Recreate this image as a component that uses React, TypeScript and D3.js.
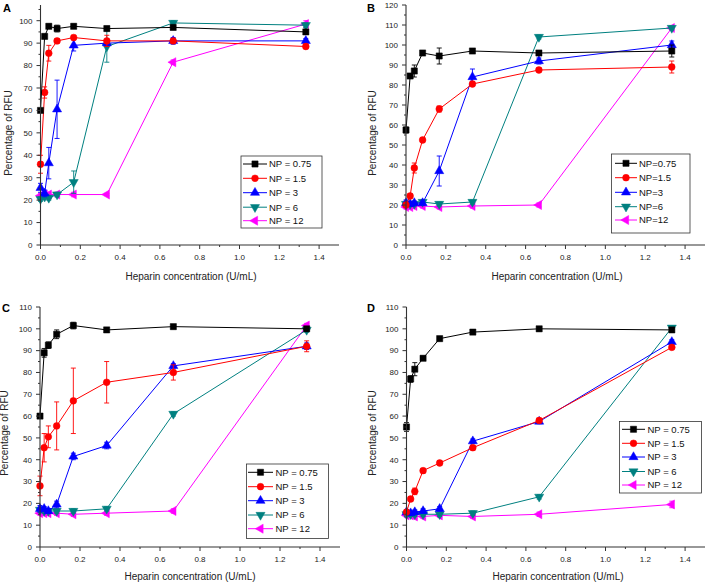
import React from "react";
import * as d3 from "d3";

// ---------- DATA ----------
const X_CONC = [0, 0.0208, 0.0417, 0.0833, 0.1667, 0.3333, 0.6667, 1.3333];
const SERIES_NAMES = ["NP0.75", "NP1.5", "NP3", "NP6", "NP12"];
const LEGEND_SPACED = ["NP = 0.75", "NP = 1.5", "NP = 3", "NP = 6", "NP = 12"];
const LEGEND_COMPACT = ["NP=0.75", "NP=1.5", "NP=3", "NP=6", "NP=12"];
const X_TICKS = [0, 0.2, 0.4, 0.6, 0.8, 1.0, 1.2, 1.4];
const Y_TICKS_A = [0, 10, 20, 30, 40, 50, 60, 70, 80, 90, 100];
const Y_TICKS_B = [0, 10, 20, 30, 40, 50, 60, 70, 80, 90, 100, 110, 120];
const Y_TICKS_CD = [0, 10, 20, 30, 40, 50, 60, 70, 80, 90, 100, 110];

// Panel A
const A_NP075 = [60, 93, 97.5, 96.5, 97.5, 96.5, 97, 95];
const A_NP15 = [36, 68, 85.5, 91, 92.5, 91, 91, 88.5];
const A_NP3 = [25.5, 23, 36.5, 60.5, 89, 90, 91, 91];
const A_NP6 = [20.5, 21.5, 21, 22.5, 28, 88.5, 99, 98];
const A_NP12 = [22, 22.5, 22.5, 22.5, 22.5, 22.5, 81.5, 98.5];
const A_NP075_ERR = [0, 1, 1, 1.5, 1, 1, 1, 1];
const A_NP15_ERR = [4, 2.5, 3.5, 1, 1, 2.5, 1, 1];
const A_NP3_ERR = [2, 1.5, 7, 13, 2.5, 1, 1.5, 1];
const A_NP6_ERR = [1, 1, 1, 1, 5, 7, 1, 1];
const A_NP12_ERR = [1, 1, 1, 1, 1, 0.5, 1, 1.5];

// Panel B
const B_NP075 = [57.5, 84.5, 87, 96, 94.5, 97, 96, 97];
const B_NP15 = [20, 24.5, 38.5, 52.5, 68, 80.5, 87.5, 89];
const B_NP3 = [21, 20.5, 21, 21, 37, 84, 92, 100];
const B_NP6 = [20.5, 20.5, 20.5, 21.5, 20.5, 21.5, 104, 108.5];
const B_NP12 = [19, 19, 19.5, 19.5, 19, 19.5, 20, 108.5];
const B_NP075_ERR = [1.5, 1, 3, 1, 4, 1, 1, 3];
const B_NP15_ERR = [0, 1, 2.5, 1, 1.5, 1, 1, 3];
const B_NP3_ERR = [1.5, 1, 1, 1, 7.5, 4, 1.5, 2];
const B_NP6_ERR = [1, 1, 1, 1, 1, 1, 1, 1];
const B_NP12_ERR = [1, 1, 1, 1, 1, 1, 1, 1];

// Panel C
const C_NP075 = [60, 89, 92.5, 97.5, 101.5, 99.5, 101, 100];
const C_NP15 = [28, 45.5, 50.5, 55.5, 67, 75.5, 80, 92];
const C_NP3 = [17.5, 17.5, 16.5, 19.5, 41.5, 46.5, 83, 92];
const C_NP6 = [17, 16.5, 16.5, 16.5, 16.5, 17.5, 61, 99.5];
const C_NP12 = [15.5, 15.5, 15.5, 15.5, 15, 15.5, 16.5, 101.5];
const C_NP075_ERR = [1, 2, 1.5, 2, 1.5, 1, 1, 1];
const C_NP15_ERR = [4.5, 6.5, 5, 11, 15, 9.5, 3.5, 2.5];
const C_NP3_ERR = [1.5, 1, 1, 1.5, 1.5, 1.5, 1, 1.5];
const C_NP6_ERR = [1, 1, 1, 1, 1, 1, 1, 1];
const C_NP12_ERR = [1, 1, 1, 1, 1, 1, 1, 1];

// Panel D
const D_NP075 = [55, 77, 81.5, 86.5, 95.5, 98.5, 100, 99.5];
const D_NP15 = [16, 22, 25.5, 35, 38.5, 45.5, 58, 91.5];
const D_NP3 = [16, 15.5, 16, 16.5, 17.5, 48.5, 57.5, 94];
const D_NP6 = [15, 15, 15, 15, 15, 15.5, 23, 100.5];
const D_NP12 = [14.5, 14.5, 14, 14, 14.5, 14, 15, 19.5];
const D_NP075_ERR = [2, 1.5, 3, 1, 1, 1, 1, 1];
const D_NP15_ERR = [1, 1, 1.5, 1, 1, 1, 1, 1];
const D_NP3_ERR = [1, 1, 1, 1, 1, 1, 1, 1];
const D_NP6_ERR = [1, 1, 1, 1, 1, 1, 1, 1];
const D_NP12_ERR = [1, 1, 1, 1, 1, 1, 1, 1.5];

// ---------- STYLE ----------
const COLORS = ["#000000", "#ff0000", "#0000ff", "#008080", "#ff00ff"];
const FONT = "Liberation Sans, Arial, Helvetica, sans-serif";

type Panel = {
  letter: string;
  series: number[][];
  errs: number[][];
  yTicks: number[];
  yMax: number;
  xRange: [number, number];
  yRange: [number, number];
  letterPos: [number, number];
  yTitle: [number, number];
  xTitle: [number, number];
  legend: { x: number; y: number; w: number; h: number; rows: number[]; lineX: [number, number]; textX: number; labels: string[] };
};

const PANELS: Panel[] = [
  {
    letter: "A",
    series: [A_NP075, A_NP15, A_NP3, A_NP6, A_NP12],
    errs: [A_NP075_ERR, A_NP15_ERR, A_NP3_ERR, A_NP6_ERR, A_NP12_ERR],
    yTicks: Y_TICKS_A,
    yMax: 107,
    xRange: [40.5, 339],
    yRange: [245, 5],
    letterPos: [3, 12],
    yTitle: [12, 133],
    xTitle: [191, 280],
    legend: { x: 241, y: 156, w: 81, h: 72, rows: [164, 178.3, 192.7, 207.2, 220.7], lineX: [243, 267], textX: 269, labels: LEGEND_SPACED },
  },
  {
    letter: "B",
    series: [B_NP075, B_NP15, B_NP3, B_NP6, B_NP12],
    errs: [B_NP075_ERR, B_NP15_ERR, B_NP3_ERR, B_NP6_ERR, B_NP12_ERR],
    yTicks: Y_TICKS_B,
    yMax: 120,
    xRange: [406, 705],
    yRange: [245, 5],
    letterPos: [367, 12],
    yTitle: [376, 133],
    xTitle: [557, 280],
    legend: { x: 611.5, y: 154, w: 78.5, h: 79, rows: [163.3, 177.7, 192.3, 206.7, 220], lineX: [615, 637], textX: 639, labels: LEGEND_COMPACT },
  },
  {
    letter: "C",
    series: [C_NP075, C_NP15, C_NP3, C_NP6, C_NP12],
    errs: [C_NP075_ERR, C_NP15_ERR, C_NP3_ERR, C_NP6_ERR, C_NP12_ERR],
    yTicks: Y_TICKS_CD,
    yMax: 110,
    xRange: [40, 340],
    yRange: [547, 307],
    letterPos: [2, 312],
    yTitle: [8, 433],
    xTitle: [190, 580],
    legend: { x: 246.5, y: 464, w: 82, h: 74.5, rows: [472.3, 486.7, 500.7, 515, 528.7], lineX: [248, 273], textX: 275.5, labels: LEGEND_SPACED },
  },
  {
    letter: "D",
    series: [D_NP075, D_NP15, D_NP3, D_NP6, D_NP12],
    errs: [D_NP075_ERR, D_NP15_ERR, D_NP3_ERR, D_NP6_ERR, D_NP12_ERR],
    yTicks: Y_TICKS_CD,
    yMax: 110,
    xRange: [406.5, 705],
    yRange: [547, 307],
    letterPos: [367, 312],
    yTitle: [376, 433],
    xTitle: [558, 580],
    legend: { x: 619.5, y: 421.5, w: 82, h: 71.5, rows: [429.3, 443.3, 457, 471.5, 485], lineX: [622, 645], textX: 647.5, labels: LEGEND_SPACED },
  },
];

function markerPath(i: number): { d: string; rot: number } {
  if (i === 0) return { d: d3.symbol(d3.symbolSquare, 38)() as string, rot: 0 };
  if (i === 1) return { d: d3.symbol(d3.symbolCircle, 36)() as string, rot: 0 };
  if (i === 2) return { d: d3.symbol(d3.symbolTriangle, 36)() as string, rot: 0 };
  if (i === 3) return { d: d3.symbol(d3.symbolTriangle, 36)() as string, rot: 180 };
  return { d: d3.symbol(d3.symbolTriangle, 36)() as string, rot: -90 };
}

function Marker({ i, x, y }: { i: number; x: number; y: number }) {
  const m = markerPath(i);
  return <path d={m.d} transform={`translate(${x},${y}) rotate(${m.rot})`} fill={COLORS[i]} stroke={COLORS[i]} strokeWidth={0.5} />;
}

function PanelView({ p }: { p: Panel }) {
  const x = d3.scaleLinear().domain([0, 1.5]).range(p.xRange);
  const y = d3.scaleLinear().domain([0, p.yMax]).range(p.yRange);
  const x0 = p.xRange[0];
  const y0 = p.yRange[0];
  const line = d3
    .line<number>()
    .x((_, k) => x(X_CONC[k]))
    .y((v) => y(v));
  const minorY = d3.range(5, p.yMax, 10);
  const minorX = d3.range(0.1, 1.5, 0.2);
  const axisColor = "#333";
  return (
    <g>
      {p.series
        .map((vals, i) => ({ vals, i }))
        .reverse()
        .map(({ vals, i }) => (
          <g key={SERIES_NAMES[i]}>
            <path d={line(vals) as string} fill="none" stroke={COLORS[i]} strokeWidth={1} />
            {vals.map((v, k) => {
              const e = p.errs[i][k];
              if (!e) return null;
              const cx = x(X_CONC[k]);
              return (
                <g key={k} stroke={COLORS[i]} strokeWidth={0.9}>
                  <line x1={cx} x2={cx} y1={y(v - e)} y2={y(v + e)} />
                  <line x1={cx - 2.5} x2={cx + 2.5} y1={y(v - e)} y2={y(v - e)} />
                  <line x1={cx - 2.5} x2={cx + 2.5} y1={y(v + e)} y2={y(v + e)} />
                </g>
              );
            })}
            {vals.map((v, k) => (
              <Marker key={k} i={i} x={x(X_CONC[k])} y={y(v)} />
            ))}
          </g>
        ))}
      <line x1={x0} x2={x0} y1={y0} y2={y(p.yMax)} stroke={axisColor} strokeWidth={1.1} />
      <line x1={x0} x2={x(1.5)} y1={y0} y2={y0} stroke={axisColor} strokeWidth={1.1} />
      {p.yTicks.map((t) => (
        <g key={"y" + t}>
          <line x1={x0 - 4} x2={x0} y1={y(t)} y2={y(t)} stroke={axisColor} />
          <text x={x0 - 8} y={y(t)} dy="0.35em" textAnchor="end" fontSize={8} fontFamily={FONT} fill="#222">
            {t}
          </text>
        </g>
      ))}
      {minorY.map((t) => (
        <line key={"my" + t} x1={x0 - 2} x2={x0} y1={y(t)} y2={y(t)} stroke={axisColor} />
      ))}
      {X_TICKS.map((t) => (
        <g key={"x" + t}>
          <line x1={x(t)} x2={x(t)} y1={y0} y2={y0 + 4} stroke={axisColor} />
          <text x={x(t)} y={y0 + 15} textAnchor="middle" fontSize={8} fontFamily={FONT} fill="#222">
            {d3.format(".1f")(t)}
          </text>
        </g>
      ))}
      {minorX.map((t) => (
        <line key={"mx" + t} x1={x(t)} x2={x(t)} y1={y0} y2={y0 + 2} stroke={axisColor} />
      ))}
      <text x={p.letterPos[0]} y={p.letterPos[1]} fontSize={11} fontWeight="bold" fontFamily={FONT} fill="#000">
        {p.letter}
      </text>
      <text
        transform={`translate(${p.yTitle[0]},${p.yTitle[1]}) rotate(-90)`}
        textAnchor="middle"
        fontSize={10}
        fontFamily={FONT}
        fill="#222"
      >
        Percentage of RFU
      </text>
      <text x={p.xTitle[0]} y={p.xTitle[1]} textAnchor="middle" fontSize={10} fontFamily={FONT} fill="#222">
        Heparin concentration (U/mL)
      </text>
      <rect x={p.legend.x} y={p.legend.y} width={p.legend.w} height={p.legend.h} fill="#fff" stroke="#333" strokeWidth={0.8} />
      {p.legend.rows.map((ry, i) => (
        <g key={"lg" + i}>
          <line x1={p.legend.lineX[0]} x2={p.legend.lineX[1]} y1={ry} y2={ry} stroke={COLORS[i]} strokeWidth={1} />
          <Marker i={i} x={(p.legend.lineX[0] + p.legend.lineX[1]) / 2} y={ry} />
          <text x={p.legend.textX} y={ry} dy="0.35em" fontSize={9.5} fontFamily={FONT} fill="#111">
            {p.legend.labels[i]}
          </text>
        </g>
      ))}
    </g>
  );
}

export default function App() {
  return (
    <svg width={709} height={584} style={{ position: "absolute", left: 0, top: 0, background: "#fff" }}>
      <rect x={0} y={0} width={709} height={584} fill="#fff" />
      {PANELS.map((p) => (
        <PanelView key={p.letter} p={p} />
      ))}
    </svg>
  );
}
